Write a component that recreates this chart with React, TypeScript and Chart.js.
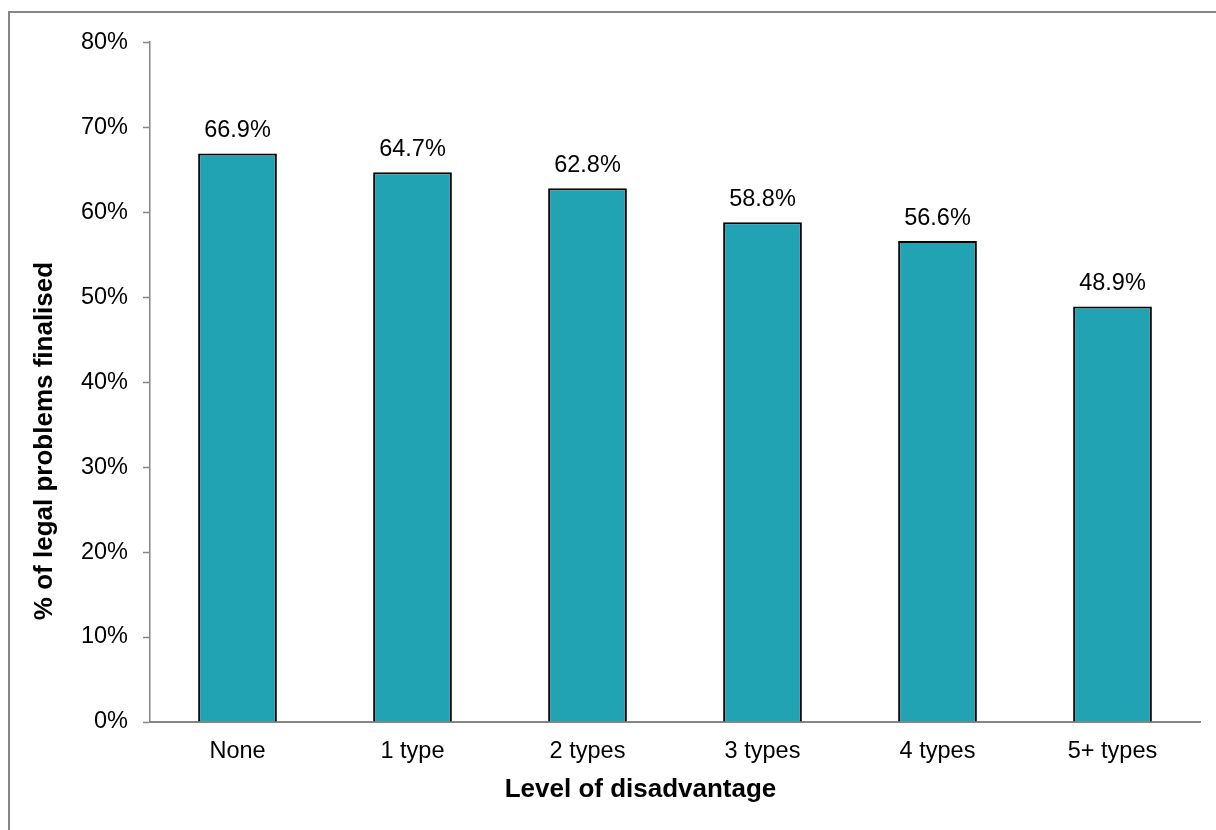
import React, { useEffect, useRef } from "react";
import { Chart, registerables } from "chart.js";

Chart.register(...registerables);

const categories = ["None", "1 type", "2 types", "3 types", "4 types", "5+ types"];
const values = [66.9, 64.7, 62.8, 58.8, 56.6, 48.9];
const yTicks = [0, 10, 20, 30, 40, 50, 60, 70, 80];
const xTitle = "Level of disadvantage";
const yTitle = "% of legal problems finalised";

const FONT = "'Liberation Sans', Arial, sans-serif";
const GRAY = "#868686";

const valueLabels = {
  id: "valueLabels",
  afterDatasetsDraw(chart: any) {
    const ctx = chart.ctx;
    const meta = chart.getDatasetMeta(0);
    ctx.save();
    ctx.font = `23.5px ${FONT}`;
    ctx.fillStyle = "#000";
    ctx.textAlign = "center";
    ctx.textBaseline = "alphabetic";
    meta.data.forEach((bar: any, i: number) => {
      ctx.fillText(values[i].toFixed(1) + "%", bar.x, bar.y - 16);
    });
    ctx.restore();
  },
};

const axisTitles = {
  id: "axisTitles",
  afterDraw(chart: any) {
    const ctx = chart.ctx;
    ctx.save();
    ctx.font = `bold 26px ${FONT}`;
    ctx.fillStyle = "#000";
    ctx.textAlign = "center";
    ctx.textBaseline = "alphabetic";
    ctx.fillText(xTitle, 630.5, 784);
    ctx.translate(35, 428);
    ctx.rotate(-Math.PI / 2);
    ctx.textBaseline = "middle";
    ctx.fillText(yTitle, 0, 0);
    ctx.restore();
  },
};

export default function App() {
  const ref = useRef<HTMLCanvasElement>(null);
  useEffect(() => {
    if (!ref.current) return;
    const chart = new Chart(ref.current, {
      type: "bar",
      data: {
        labels: categories,
        datasets: [
          {
            data: values,
            backgroundColor: "#21A3B3",
            borderColor: "#000",
            borderWidth: 2,
            barPercentage: 0.45,
            categoryPercentage: 1,
          },
        ],
      },
      options: {
        animation: false,
        responsive: true,
        maintainAspectRatio: false,
        layout: { padding: { left: 0, top: 29, right: 16, bottom: 0 } },
        plugins: { legend: { display: false }, tooltip: { enabled: false } },
        scales: {
          x: {
            grid: { display: false, drawTicks: false },
            border: { display: true, color: GRAY, width: 2 },
            ticks: { color: "#000", font: { family: FONT, size: 23.5 }, padding: 15 },
            afterFit(scale: any) {
              scale.height = 108;
            },
          },
          y: {
            min: 0,
            max: 80,
            afterBuildTicks(scale: any) {
              scale.ticks = yTicks.map((v) => ({ value: v }));
            },
            grid: {
              drawOnChartArea: false,
              drawTicks: true,
              tickLength: 7,
              tickColor: GRAY,
              tickWidth: 1.5,
            },
            border: { display: true, color: GRAY, width: 1.5 },
            ticks: {
              color: "#000",
              font: { family: FONT, size: 23.5 },
              padding: 15,
              callback: (v: any) => v + "%",
            },
            afterFit(scale: any) {
              scale.width = 140;
            },
          },
        },
      },
      plugins: [valueLabels, axisTitles],
    });
    return () => chart.destroy();
  }, []);

  return (
    <div
      style={{
        position: "fixed",
        left: 8,
        top: 11,
        width: 1208,
        height: 819,
        borderTop: `2px solid ${GRAY}`,
        borderLeft: `2px solid ${GRAY}`,
        boxSizing: "border-box",
        background: "#fff",
      }}
    >
      <div style={{ position: "relative", width: 1206, height: 817 }}>
        <canvas ref={ref} />
      </div>
    </div>
  );
}
